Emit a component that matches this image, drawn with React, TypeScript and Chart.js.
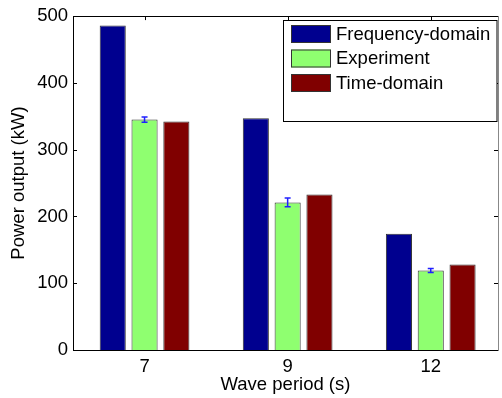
import React, { useEffect, useRef } from 'react';
import { Chart, registerables } from 'chart.js';

Chart.register(...registerables);

const periods = ['7', '9', '12'];
const seriesLabels = ['Frequency-domain', 'Experiment', 'Time-domain'];
const freqDomain = [486, 347, 174];
const experiment = [345, 221, 119];
const experimentErr = [4, 6.5, 3];
const timeDomain = [342, 233, 128];
const yTicks = [0, 100, 200, 300, 400, 500];
const seriesColors = ['#00008F', '#8FFF70', '#800000'];

const FONT = '"Liberation Sans", Arial, Helvetica, sans-serif';
const FONT_SIZE = 18.5;

const framePlugin = {
  id: 'frame',
  beforeDatasetsDraw(chart: any) {
    const { ctx, chartArea: a, scales } = chart;
    ctx.save();
    ctx.strokeStyle = '#000';
    ctx.lineWidth = 1;
    ctx.beginPath();
    yTicks.forEach((v) => {
      const y = Math.round(scales.y.getPixelForValue(v)) + 0.5;
      ctx.moveTo(a.left, y);
      ctx.lineTo(a.left + 4, y);
      ctx.moveTo(a.right, y);
      ctx.lineTo(a.right - 4, y);
    });
    periods.forEach((_, i) => {
      const x = Math.round(scales.x.getPixelForValue(i + 1)) + 0.5;
      ctx.moveTo(x, a.top);
      ctx.lineTo(x, a.top + 4);
      ctx.moveTo(x, a.bottom);
      ctx.lineTo(x, a.bottom - 4);
    });
    ctx.stroke();
    ctx.restore();
  },
  afterDatasetsDraw(chart: any) {
    const { ctx, chartArea: a, scales } = chart;
    ctx.save();
    const meta = chart.getDatasetMeta(1);
    ctx.strokeStyle = '#2020ff';
    ctx.lineWidth = 1.5;
    meta.data.forEach((bar: any, i: number) => {
      const x = bar.x;
      const yHi = scales.y.getPixelForValue(experiment[i] + experimentErr[i]);
      const yLo = scales.y.getPixelForValue(experiment[i] - experimentErr[i]);
      ctx.beginPath();
      ctx.moveTo(x, yHi);
      ctx.lineTo(x, yLo);
      ctx.moveTo(x - 3, yHi);
      ctx.lineTo(x + 3, yHi);
      ctx.moveTo(x - 3, yLo);
      ctx.lineTo(x + 3, yLo);
      ctx.stroke();
    });
    ctx.lineWidth = 1;
    ctx.strokeStyle = '#000';
    const l = Math.round(a.left) + 0.5;
    const r = Math.round(a.right) + 0.5;
    const t = Math.round(a.top) + 0.5;
    const b = Math.round(a.bottom) + 0.5;
    ctx.beginPath();
    ctx.moveTo(l, b);
    ctx.lineTo(l, t);
    ctx.lineTo(r, t);
    ctx.moveTo(l, b);
    ctx.lineTo(r, b);
    ctx.stroke();
    ctx.strokeStyle = '#888';
    ctx.beginPath();
    ctx.moveTo(r, t);
    ctx.lineTo(r, b);
    ctx.stroke();
    ctx.restore();
  },
  afterDraw(chart: any) {
    const { ctx, chartArea: a } = chart;
    ctx.save();
    const bx = 283.5;
    const by = 20.5;
    const bw = a.right - 1 - bx;
    const bh = 101;
    ctx.fillStyle = '#fff';
    ctx.fillRect(bx, by, bw, bh);
    ctx.strokeStyle = '#000';
    ctx.lineWidth = 1;
    ctx.strokeRect(bx, by, bw, bh);
    ctx.font = `${FONT_SIZE}px ${FONT}`;
    ctx.textBaseline = 'middle';
    ctx.textAlign = 'left';
    seriesLabels.forEach((lab, i) => {
      const ry = 25 + i * 24.5;
      ctx.fillStyle = seriesColors[i];
      ctx.fillRect(291, ry, 40, 18);
      ctx.strokeStyle = '#333';
      ctx.strokeRect(291.5, ry + 0.5, 39, 17);
      ctx.fillStyle = '#000';
      ctx.fillText(lab, 336, ry + 9.5);
    });
    ctx.restore();
  },
};

export default function App() {
  const ref = useRef<HTMLCanvasElement>(null);
  useEffect(() => {
    document.body.style.margin = '0';
    const canvas = ref.current!;
    const datasets = [freqDomain, experiment, timeDomain].map((vals, s) => ({
      label: seriesLabels[s],
      data: vals.map((v, i) => ({ x: i + 1, y: v })),
      backgroundColor: seriesColors[s],
      borderColor: '#333',
      borderWidth: 1,
      borderSkipped: 'bottom' as const,
      categoryPercentage: 0.667,
      barPercentage: 0.82,
    }));
    const chart = new Chart(canvas, {
      type: 'bar',
      data: { datasets },
      plugins: [framePlugin],
      options: {
        animation: false,
        responsive: false,
        devicePixelRatio: 1,
        layout: { padding: { top: 15, right: 4, left: 0, bottom: 0 } },
        plugins: { legend: { display: false }, tooltip: { enabled: false } },
        scales: {
          x: {
            type: 'linear',
            offset: false,
            min: 0.5,
            max: 3.47,
            grid: { display: false, drawTicks: false, offset: false },
            border: { display: false },
            afterFit: (s: any) => { s.height = 48; },
            afterBuildTicks: (s: any) => { s.ticks = periods.map((_, i) => ({ value: i + 1 })); },
            ticks: {
              padding: 6,
              color: '#000',
              font: { family: FONT, size: FONT_SIZE },
              callback: (v: any) => periods[Number(v) - 1] ?? '',
            },
            title: {
              display: true,
              text: 'Wave period (s)',
              color: '#000',
              font: { family: FONT, size: FONT_SIZE },
              padding: { top: 0, bottom: 2 },
            },
          },
          y: {
            min: 0,
            max: 500,
            grid: { display: false, drawTicks: false },
            border: { display: false },
            afterFit: (s: any) => { s.width = 73; },
            afterBuildTicks: (s: any) => { s.ticks = yTicks.map((v) => ({ value: v })); },
            ticks: {
              padding: 5,
              color: '#000',
              font: { family: FONT, size: FONT_SIZE },
            },
            title: {
              display: true,
              text: 'Power output (kW)',
              color: '#000',
              font: { family: FONT, size: FONT_SIZE },
              padding: { top: 8, bottom: 0 },
            },
          },
        },
      },
    });
    return () => chart.destroy();
  }, []);
  return (
    <div style={{ position: 'absolute', left: 0, top: 0, width: 502, height: 398 }}>
      <canvas ref={ref} width={502} height={398} style={{ width: 502, height: 398 }} />
    </div>
  );
}
